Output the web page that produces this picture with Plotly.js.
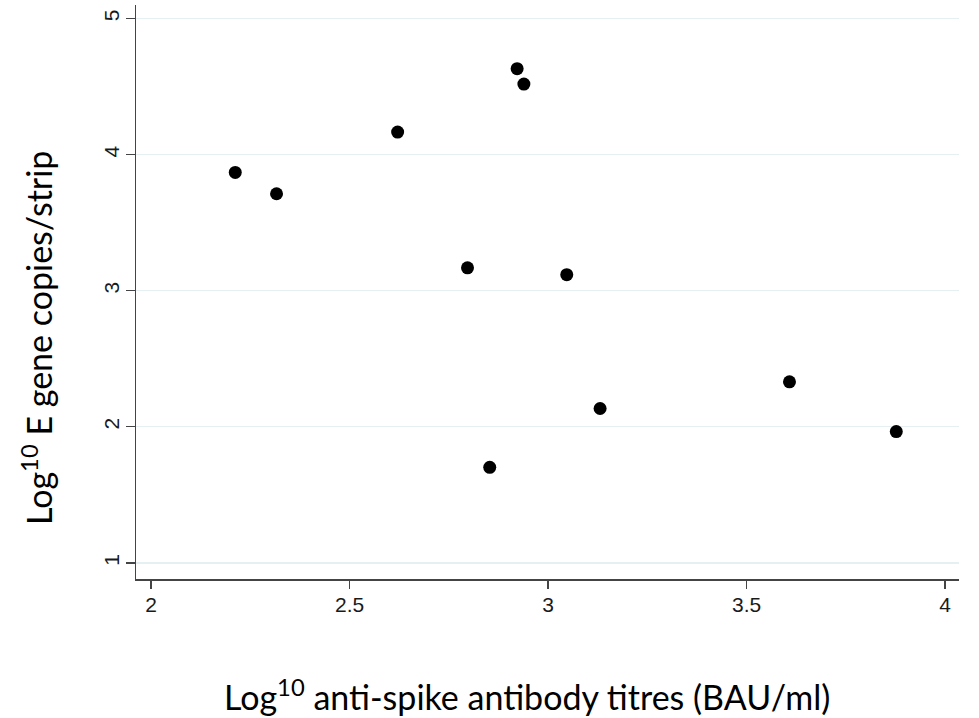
<!DOCTYPE html>
<html>
<head>
<meta charset="utf-8">
<script src="https://cdn.plot.ly/plotly-3.0.1.min.js"></script>
<style>html,body{margin:0;padding:0;background:#fff;}#chart{width:979px;height:718px;}</style>
</head>
<body>
<div id="chart"></div>
<script>
// Log10 anti-spike antibody titres (BAU/ml)
const antibodyLog = [2.212, 2.316, 2.621, 2.797, 2.853, 2.922, 2.939, 3.047, 3.131, 3.608, 3.877];
// Log10 E gene copies/strip
const eGeneLog = [3.870, 3.713, 4.166, 3.169, 1.703, 4.632, 4.519, 3.118, 2.135, 2.331, 1.965];
const xTicks = [2, 2.5, 3, 3.5, 4];
const xTickText = ['2', '2.5', '3', '3.5', '4'];
const yTicks = [1, 2, 3, 4, 5];
const yTickText = ['1', '2', '3', '4', '5'];
const xTitle = 'Log<sup>10</sup> anti-spike antibody titres (BAU/ml)';
const yTitle = 'Log<sup>10</sup> E gene copies/strip';

const trace = {
  x: antibodyLog, y: eGeneLog, type: 'scatter', mode: 'markers',
  marker: {color: '#000', size: 13}, hoverinfo: 'x+y'
};
const tickFont = {family: 'Liberation Sans, Arial, sans-serif', size: 21, color: '#1a1a1a'};
const titleFont = {family: 'Lato, Open Sans, sans-serif', size: 34, color: '#000'};
const layout = {
  width: 979, height: 718,
  margin: {l: 136, r: 20, t: 5, b: 139},
  paper_bgcolor: '#fff', plot_bgcolor: '#fff',
  showlegend: false,
  xaxis: {
    range: [1.962, 4.035], tickvals: xTicks, ticktext: xTickText,
    showgrid: false, zeroline: false, showline: true, linecolor: '#444', linewidth: 1.5,
    ticks: 'outside', ticklen: 8, tickwidth: 1.2, tickcolor: '#444',
    tickfont: tickFont, ticklabelstandoff: -2
  },
  yaxis: {
    range: [0.882, 5.10], tickvals: yTicks, ticktext: yTickText, tickangle: -90,
    showgrid: true, gridcolor: '#e6eff1', gridwidth: 1.2, zeroline: false,
    showline: true, linecolor: '#444', linewidth: 1.5,
    ticks: 'outside', ticklen: 9, tickwidth: 1.2, tickcolor: '#444',
    tickfont: tickFont, ticklabelstandoff: -2
  },
  annotations: [
    {text: xTitle, xref: 'paper', yref: 'paper', x: (832 - 136) / 823, y: (579 - 695) / 574,
     xanchor: 'right', yanchor: 'middle', showarrow: false, font: titleFont},
    {text: yTitle, xref: 'paper', yref: 'paper', x: (37 - 136) / 823, y: (579 - 338) / 574,
     xanchor: 'center', yanchor: 'middle', textangle: -90, showarrow: false, font: titleFont}
  ]
};
Plotly.newPlot('chart', [trace], layout, {displayModeBar: false, staticPlot: true});
</script>
</body>
</html>
